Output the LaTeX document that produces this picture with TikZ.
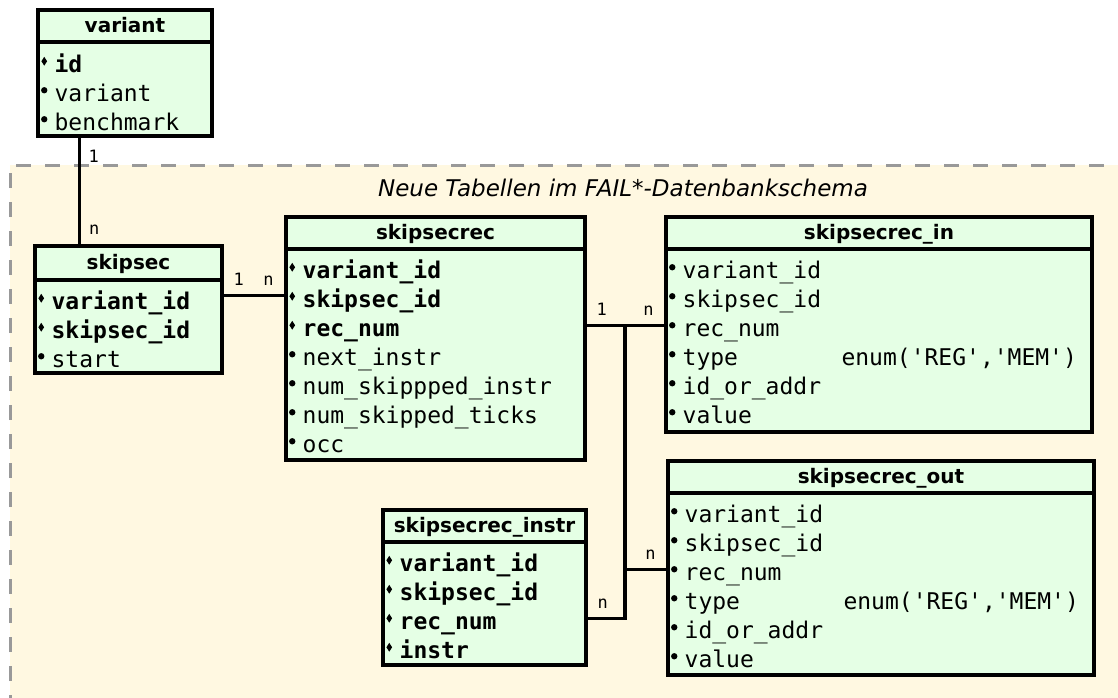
\documentclass[tikz,border=0pt]{standalone}
\usepackage{fontspec}
\setmainfont{DejaVu Sans}
\setmonofont{DejaVu Sans Mono}
\usetikzlibrary{shapes.geometric}
\usetikzlibrary{fit}
\usetikzlibrary{positioning}

\definecolor{tabfill}{RGB}{229,255,229}
\definecolor{zonefill}{RGB}{255,248,225}
\definecolor{zoneline}{RGB}{153,153,153}

\begin{document}
\begin{tikzpicture}[
  x=0.5pt, y=-0.5pt,
  head/.style={draw,line width=1.75pt,fill=tabfill,inner sep=0pt},
  title/.style={inner sep=0pt,text height=8.5pt,text depth=2pt,
    font=\bfseries\fontsize{10}{12}\selectfont},
  body/.style={draw,line width=1.75pt,fill=tabfill,inner sep=0pt},
  key/.style={anchor=base west,inner sep=0pt,
    font=\ttfamily\bfseries\fontsize{11.5}{14}\selectfont},
  attr/.style={key,font=\ttfamily\mdseries\fontsize{11.5}{14}\selectfont},
  kmark/.style={diamond,fill,inner sep=0pt,minimum width=3pt,minimum height=4.6pt},
  amark/.style={circle,fill,inner sep=0pt,minimum size=3.2pt},
  rel/.style={line width=1.75pt},
  card/.style={inner sep=1pt,text height=6pt,text depth=0pt,
    font=\ttfamily\fontsize{8.5}{10}\selectfont},
]
\useasboundingbox (0,0) rectangle (1118,697);

% area of the new tables
\fill[zonefill] (10,165) rectangle (1130,710);
\draw[zoneline,line width=1.5pt,dash pattern=on 7.5pt off 7pt] (10,710) -- (10,165) -- (1130,165);
\node[font=\itshape\fontsize{11.5}{14}\selectfont] (zone) at (623,188) {Neue Tabellen im FAIL*-Datenbankschema};

% variant
\node[head,fit={(38,10) (212,42)},label={[title]center:variant}] (variant) {};
\node[body,fit={(38,42) (212,136)}] (variant-b) {};
\foreach \f [count=\i] in {id}
  \path (variant-b.north west) ++(8,29*\i-8) node[kmark] (variant-m\i) {} ++(10,11) node[key] (variant-f\i) {\f};
\foreach \f [count=\i from 2] in {variant,benchmark}
  \path (variant-b.north west) ++(8,29*\i-8) node[amark] (variant-m\i) {} ++(10,11) node[attr] (variant-f\i) {\f};

% skipsec
\node[head,fit={(35,246) (222,280)},label={[title]center:skipsec}] (ss) {};
\node[body,fit={(35,280) (222,373)}] (ss-b) {};
\foreach \f [count=\i] in {variant\_id,skipsec\_id}
  \path (ss-b.north west) ++(8,29*\i-9) node[kmark] (ss-m\i) {} ++(10,11) node[key] (ss-f\i) {\f};
\foreach \f [count=\i from 3] in {start}
  \path (ss-b.north west) ++(8,29*\i-9) node[amark] (ss-m\i) {} ++(10,11) node[attr] (ss-f\i) {\f};

% skipsecrec
\node[head,fit={(286,217) (585,249)},label={[title]center:skipsecrec}] (sr) {};
\node[body,fit={(286,249) (585,460)}] (sr-b) {};
\foreach \f [count=\i] in {variant\_id,skipsec\_id,rec\_num}
  \path (sr-b.north west) ++(8,29*\i-9) node[kmark] (sr-m\i) {} ++(10,11) node[key] (sr-f\i) {\f};
\foreach \f [count=\i from 4] in {next\_instr,num\_skippped\_instr,num\_skipped\_ticks,occ}
  \path (sr-b.north west) ++(8,29*\i-9) node[amark] (sr-m\i) {} ++(10,11) node[attr] (sr-f\i) {\f};

% skipsecrec_in
\node[head,fit={(666,217) (1092,249)},label={[title]center:skipsecrec\_in}] (in) {};
\node[body,fit={(666,249) (1092,432)}] (in-b) {};
\foreach \f [count=\i] in {variant\_id,skipsec\_id,rec\_num,{type\hspace{4.5em}enum('REG','MEM')},id\_or\_addr,value}
  \path (in-b.north west) ++(8,29*\i-9) node[amark] (in-m\i) {} ++(10,11) node[attr] (in-f\i) {\f};

% skipsecrec_out
\node[head,fit={(668,461) (1094,493)},label={[title]center:skipsecrec\_out}] (out) {};
\node[body,fit={(668,493) (1094,675)}] (out-b) {};
\foreach \f [count=\i] in {variant\_id,skipsec\_id,rec\_num,{type\hspace{4.5em}enum('REG','MEM')},id\_or\_addr,value}
  \path (out-b.north west) ++(8,29*\i-9) node[amark] (out-m\i) {} ++(10,11) node[attr] (out-f\i) {\f};

% skipsecrec_instr
\node[head,fit={(383,510) (586,542)},label={[title]center:skipsecrec\_instr}] (ins) {};
\node[body,fit={(383,542) (586,665)}] (ins-b) {};
\foreach \f [count=\i] in {variant\_id,skipsec\_id,rec\_num,instr}
  \path (ins-b.north west) ++(8,29*\i-9) node[kmark] (ins-m\i) {} ++(10,11) node[key] (ins-f\i) {\f};

% relations
\path (variant-b.south west) ++(43,0) coordinate (v-s);
\draw[rel] (v-s) node[card,below right=4.25pt and 2.75pt] {1}
  -- (v-s |- ss.north) node[card,above right=3pt and 3pt] {n};
\draw[rel] ([yshift=1.5pt]ss-m1.center -| ss-b.east) node[card,above right=3pt and 3pt] {1}
  -- ([yshift=1.5pt]ss-m1.center -| sr-b.west) node[card,above left=3pt and 3.5pt] {n};
\draw[rel] (sr-m3 -| sr-b.east) node[card,above right=3pt and 3pt] {1}
  -- (sr-m3 -| in-b.west) node[card,above left=3pt and 3.5pt] {n};
\path (sr-m3 -| sr-b.east) ++(38,0) coordinate (fork);
\draw[rel] (fork) |- (ins-m3 -| ins-b.east) node[card,above right=3pt and 3pt] {n};
\draw[rel] (fork |- out-m3) -- (out-m3 -| out-b.west) node[card,above left=3pt and 3.5pt] {n};
\end{tikzpicture}
\end{document}
